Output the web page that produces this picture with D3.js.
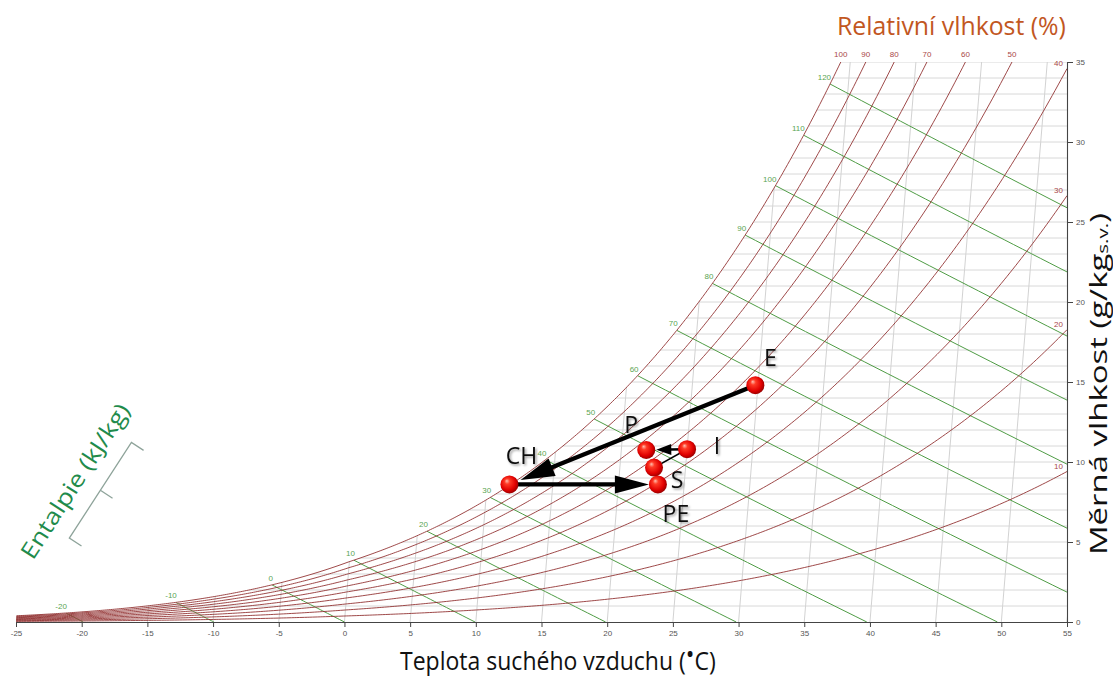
<!DOCTYPE html>
<html><head><meta charset="utf-8">
<script src="https://cdn.jsdelivr.net/npm/d3@7"></script>
<style>body{margin:0;background:#fff}svg{display:block}</style>
</head><body>
<svg id="c" width="1113" height="677"></svg>
<script>
// ---------- data ----------
const tempTicks = [-25,-20,-15,-10,-5,0,5,10,15,20,25,30,35,40,45,50,55];
const humTicks = [0,5,10,15,20,25,30,35];
const humGrid = [1,2,3,4,5,6,7,8,9,10,11,12,13,14,15,16,17,18,19,20,21,22,23,24,25,26,27,28,29,30,31,32,33,34,35];
const rhLevels = [10,20,30,40,50,60,70,80,90,100];
const enthalpyLevels = [-20,-10,0,10,20,30,40,50,60,70,80,90,100,110,120];
const pointNames = ["E","P","I","S","CH","PE"];
const pointTemp = [29.8, 21.9, 25.0, 22.6, 11.7, 23.0];
const pointHum  = [14.8, 10.75, 10.8, 9.65, 8.6, 8.6];
const transitionFrom = ["E","CH","I","S"];
const transitionTo   = ["CH","PE","P","I"];

// ---------- layout / style ----------
const arrowStyle = [
  {gap:12, len:34, half:9.5, w:4.2},
  {gap:9,  len:34, half:9,   w:4.2},
  {gap:10, len:15, half:5.5, w:2.6},
  {gap:0,  len:0,  half:0,   w:1.6}
];
const labelOffset = {E:[15,-27], P:[-15,-25], I:[30,-3], S:[23,12], CH:[12,-29], PE:[18,29]};

const svg = d3.select("#c");
svg.append("rect").attr("width",1113).attr("height",677).attr("fill","#fff");

const x = d3.scaleLinear().domain([-25,55]).range([16,1067]);
const y = d3.scaleLinear().domain([0,35]).range([622,62]);
const SKEW = 0.1;
const X = (T,W) => x(T + SKEW*W);

// psychrometric relations (chart definition)
const P_ATM = 101325;
const psat = T => T >= 0 ? 610.94*Math.exp(17.625*T/(T+243.04)) : 611.15*Math.exp(22.452*T/(272.55+T));
const humRatio = (T, rh) => { const pw = rh*psat(T); return pw >= 0.95*P_ATM ? 1e6 : 622*pw/(P_ATM-pw); };
const tOfH = (h,W) => (h - 2.501*W)/(1.006 + 0.00186*W);
function bisect(f,a,b){ let fa=f(a); for(let i=0;i<60;i++){ const m=(a+b)/2, fm=f(m); if(fa*fm<=0){b=m;} else {a=m;fa=fm;} } return (a+b)/2; }

function rhCurve(rh){
  const r = rh/100;
  const g = T => { const W = humRatio(T,r); return Math.max(W-35, T+SKEW*W-55); };
  const Tend = bisect(g,-25,60);
  const pts = d3.range(0,401).map(i => { const T = -25 + (Tend+25)*i/400; return [T, humRatio(T,r)]; });
  const Wend = humRatio(Tend,r);
  return {pts, Tend, Wend, top: Math.abs(Wend-35) < 0.05};
}
const sat = rhCurve(100);

// clip region under saturation curve
const clipPts = sat.pts.map(([T,W]) => [X(T,W), y(W)]).concat([[x(55),y(35)],[x(55),y(0)],[x(-25),y(0)]]);
svg.append("clipPath").attr("id","under").append("path").attr("d", d3.line()(clipPts)+"Z");

const chart = svg.append("g").attr("clip-path","url(#under)");

// grid
chart.selectAll(".vg").data(tempTicks).join("line")
  .attr("x1",d=>X(d,0)).attr("y1",y(0)).attr("x2",d=>X(d,35)).attr("y2",y(35))
  .attr("stroke","#cdcdcd").attr("stroke-width",0.9);
chart.selectAll(".hg").data(humGrid).join("line")
  .attr("x1",x(-25)).attr("x2",x(55)).attr("y1",d=>y(d)).attr("y2",d=>y(d))
  .attr("stroke","#d4d4d4").attr("stroke-width",0.9);

// enthalpy lines
const line = d3.line().x(d=>X(d[0],d[1])).y(d=>y(d[1]));
const enth = enthalpyLevels.map(h => {
  const Wstart = bisect(W => humRatio(tOfH(h,W),1) - W, 0, 60);
  let Wend = 0;
  if (tOfH(h,0) > 55) Wend = bisect(W => tOfH(h,W) + SKEW*W - 55, 0, Wstart);
  const pts = d3.range(0,31).map(i => { const W = Wstart + (Wend-Wstart)*i/30; return [tOfH(h,W), W]; });
  return {h, pts, start: pts[0]};
});
chart.selectAll(".en").data(enth).join("path")
  .attr("d", d=>line(d.pts)).attr("fill","none").attr("stroke","#4f9c45").attr("stroke-width",1);

// RH curves
const rh = rhLevels.map(r => Object.assign({r}, rhCurve(r)));
svg.append("g").selectAll("path").data(rh).join("path")
  .attr("d", d=>line(d.pts)).attr("fill","none").attr("stroke","#8e2a2a").attr("stroke-width",0.95).attr("stroke-opacity",0.9);

// enthalpy labels
svg.append("g").selectAll("text").data(enth).join("text")
  .attr("x", d=>X(d.start[0],d.start[1])+1).attr("y", d=>y(d.start[1])-4)
  .attr("text-anchor","end").attr("font-family","Liberation Sans, Arial, sans-serif").attr("font-size",8)
  .attr("fill","#5aa552").text(d=>String(d.h));

// RH labels
svg.append("g").selectAll("text").data(rh).join("text")
  .attr("x", d=> d.top ? X(d.Tend,d.Wend) : x(55)-4)
  .attr("y", d=> d.top ? y(35)-5 : y(d.Wend)-3)
  .attr("text-anchor", d=> d.top ? "middle" : "end")
  .attr("font-family","Liberation Sans, Arial, sans-serif").attr("font-size",8)
  .attr("fill","#a94848").text(d=>String(d.r));

// axes
const ax = svg.append("g").attr("transform",`translate(0,${y(0)})`)
  .call(d3.axisBottom(x).tickValues(tempTicks).tickSize(5).tickSizeOuter(0).tickFormat(d=>String(d)));
const ay = svg.append("g").attr("transform",`translate(${x(55)},0)`)
  .call(d3.axisRight(y).tickValues(humTicks).tickSize(6).tickSizeOuter(0).tickFormat(d=>String(d)));
[ax,ay].forEach(a => {
  a.select(".domain").attr("stroke","#444").attr("stroke-width",1.1);
  a.selectAll(".tick line").attr("stroke","#444");
  a.selectAll(".tick text").attr("fill","#555").attr("font-size",8).attr("font-family","Liberation Sans, Arial, sans-serif");
});

// titles
function fitTitle(parts, ax0, ay0, angle, len, size, color){
  const g = svg.append("g");
  const t = g.append("text").attr("font-family","Open Sans, Noto Sans, sans-serif").attr("font-size",size).attr("fill",color);
  parts.forEach(p => {
    const s = t.append("tspan").text(p.t);
    if (p.size) s.attr("font-size",p.size);
    if (p.dy) s.attr("dy",p.dy);
  });
  const w = t.node().getComputedTextLength();
  g.attr("transform",`translate(${ax0},${ay0}) rotate(${angle}) scale(${len/w},1)`);
  return g;
}
fitTitle([{t:"Relativní vlhkost (%)"}], 837, 35, 0, 229, 25, "#c2571f");
fitTitle([{t:"Teplota suchého vzduchu ("},{t:"•",dy:-7},{t:"C)",dy:7}], 400, 670, 0, 316, 25, "#111");
fitTitle([{t:"Měrná vlhkost (g/kg"},{t:"s.v.",size:15,dy:1},{t:")",dy:-1}], 1107, 555, -90, 342, 24, "#111");
fitTitle([{t:"Entalpie (kJ/kg)"}], 33, 561, -57, 180, 23, "#1f8b4c");
// bracket symbol below the enthalpy title
const br = svg.append("g").attr("transform","translate(33,561) rotate(-57)")
  .attr("fill","none").attr("stroke","#8ea39a").attr("stroke-width",1.3);
br.append("path").attr("d","M39,32.5L39,18L153,18L153,32.5M96,18L96,32.5");

// state points
const pts = pointNames.map((n,i)=>({n, T:pointTemp[i], W:pointHum[i], px:X(pointTemp[i],pointHum[i]), py:y(pointHum[i])}));
const byName = Object.fromEntries(pts.map(p=>[p.n,p]));
const defs = svg.append("defs");
const rg = defs.append("radialGradient").attr("id","ball").attr("cx","45%").attr("cy","45%").attr("r","60%").attr("fx","35%").attr("fy","30%");
rg.append("stop").attr("offset","0%").attr("stop-color","#ffc0b0");
rg.append("stop").attr("offset","25%").attr("stop-color","#ff3a26");
rg.append("stop").attr("offset","70%").attr("stop-color","#e00000");
rg.append("stop").attr("offset","100%").attr("stop-color","#8a0000");
const sh = defs.append("filter").attr("id","sh").attr("x","-30%").attr("y","-30%").attr("width","160%").attr("height","160%");
sh.append("feDropShadow").attr("dx",1.5).attr("dy",1.5).attr("stdDeviation",1.2).attr("flood-color","#000").attr("flood-opacity",0.4);

const arrows = svg.append("g");
transitionFrom.forEach((f,i) => {
  const a = byName[f], b = byName[transitionTo[i]], st = arrowStyle[i];
  const dx = b.px-a.px, dy = b.py-a.py, L = Math.hypot(dx,dy), ux = dx/L, uy = dy/L;
  const tip = [b.px-ux*st.gap, b.py-uy*st.gap];
  const base = [tip[0]-ux*st.len, tip[1]-uy*st.len];
  arrows.append("line").attr("x1",a.px).attr("y1",a.py).attr("x2",st.len?base[0]+ux*2:b.px).attr("y2",st.len?base[1]+uy*2:b.py)
    .attr("stroke","#000").attr("stroke-width",st.w);
  if (st.len) arrows.append("path")
    .attr("d",`M${tip[0]},${tip[1]}L${base[0]-uy*st.half},${base[1]+ux*st.half}L${base[0]+uy*st.half},${base[1]-ux*st.half}Z`)
    .attr("fill","#000");
});
svg.append("g").selectAll("circle").data(pts).join("circle")
  .attr("cx",d=>d.px).attr("cy",d=>d.py).attr("r",9).attr("fill","url(#ball)");
svg.append("g").selectAll("text").data(pts).join("text")
  .attr("x",d=>d.px+labelOffset[d.n][0]).attr("y",d=>d.py+labelOffset[d.n][1]).attr("dy","0.36em")
  .attr("text-anchor","middle").attr("font-family","Open Sans, Noto Sans, sans-serif").attr("font-size",23)
  .attr("font-weight",500).attr("fill","#111").attr("filter","url(#sh)").text(d=>d.n);
</script>
</body></html>
